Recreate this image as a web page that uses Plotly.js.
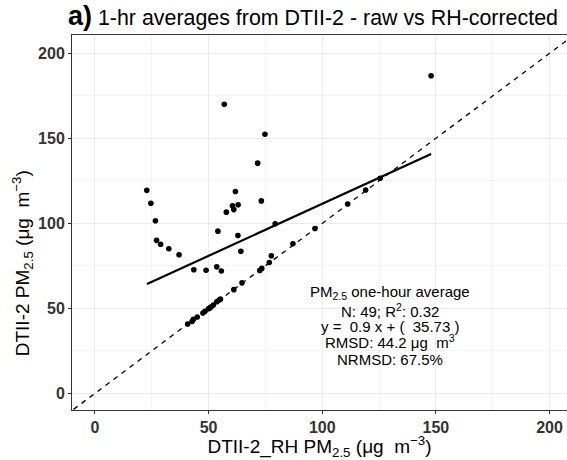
<!DOCTYPE html>
<html>
<head>
<meta charset="utf-8">
<script src="https://cdn.plot.ly/plotly-3.0.1.min.js"></script>
<style>html,body{margin:0;padding:0;background:#fff;}#chart{width:567px;height:460px;}</style>
</head>
<body>
<div id="chart"></div>
<script>
// RH-corrected (x) vs raw (y) 1-hr PM2.5, ug/m3
var rhCorrected = [22.8,24.6,26.6,27.1,28.9,32.5,37.0,43.5,48.9,53.6,55.6,54.1,57.8,60.5,61.1,63.0,61.8,56.9,74.8,71.6,73.2,62.9,64.2,79.3,77.6,147.9,
  40.8,42.7,43.3,45.0,47.5,48.4,49.9,50.5,51.0,52.1,53.6,54.5,55.2,61.1,64.7,72.5,73.4,76.7,87.1,96.8,111.2,119.1,125.5];
var raw = [119.4,111.8,101.5,90.0,87.7,85.1,81.5,72.7,72.4,74.4,72.0,95.4,106.6,110.3,108.1,110.9,118.7,170.0,152.4,135.4,113.2,92.8,83.6,99.8,80.9,186.8,
  40.8,42.3,43.5,44.9,47.3,48.3,49.8,50.2,50.8,52.0,53.9,54.7,55.4,61.0,65.0,72.3,73.5,77.0,88.0,97.0,111.4,119.6,126.5];
var fitX = [22.9, 147.9];
var fitY = [64.3, 140.8];
var oneToOne = [-20, 230];
var tickVals = [0, 50, 100, 150, 200];
var tickText = ['0', '50', '100', '150', '200'];
var statLines = ['PM<sub>2.5</sub> one-hour average', 'N: 49; R<sup>2</sup>: 0.32', 'y =  0.9 x + (  35.73 )', 'RMSD: 44.2 \u03bcg  m<sup>3</sup>', 'NRMSD: 67.5%'];
var statLineY = [59.6, 48.9, 39.6, 30.4, 19.8];

var traces = [
  {x: oneToOne, y: oneToOne, mode: 'lines', line: {color: '#000', width: 1.3, dash: '5px,5px'}, hoverinfo: 'skip', showlegend: false},
  {x: fitX, y: fitY, mode: 'lines', line: {color: '#000', width: 2.2}, showlegend: false},
  {x: rhCorrected, y: raw, mode: 'markers', marker: {color: '#000', size: 5.6}, showlegend: false}
];

var axisFont = {family: 'Liberation Sans, Arial, sans-serif', size: 16, color: '#333333', weight: 'bold'};
var annotations = statLines.map(function (t, i) {
  return {text: t, xref: 'x', yref: 'y', x: 129.8, y: statLineY[i], xanchor: 'center', yanchor: 'middle',
          showarrow: false, align: 'center', font: {size: 15, color: '#000'}};
});
annotations.push({
  text: 'DTII-2 PM<sub>2.5</sub> (\u03bcg  m<sup>\u22123</sup>)', textangle: -90,
  xref: 'paper', yref: 'paper', x: -0.1, xanchor: 'center', y: 0.39, yanchor: 'middle',
  showarrow: false, font: {size: 19, color: '#000'}
});

var layout = {
  width: 567, height: 460,
  margin: {l: 72, r: 0, t: 35, b: 50},
  paper_bgcolor: '#fff', plot_bgcolor: '#fff',
  font: {family: 'Liberation Sans, Arial, sans-serif', color: '#000'},
  title: {text: '<b><span style="font-size:27px">a)</span></b> 1-hr averages from DTII-2 - raw vs RH-corrected',
          font: {size: 21.4, color: '#000'}, xref: 'container', yref: 'container', x: 0.552, xanchor: 'center', y: 0.963, yanchor: 'middle'},
  xaxis: {range: [-10.1, 207.7], tickvals: tickVals, ticktext: tickText, tickfont: axisFont,
          showgrid: true, gridcolor: '#ebebeb', gridwidth: 1, zeroline: false,
          minor: {dtick: 25, tick0: 0, showgrid: true, gridcolor: '#f3f3f3', gridwidth: 1},
          showline: true, linecolor: '#333', linewidth: 1, mirror: true,
          ticks: 'outside', ticklen: 3, tickcolor: '#333',
          title: {text: 'DTII-2_RH PM<sub>2.5</sub> (\u03bcg  m<sup>\u22123</sup>)', font: {size: 19, color: '#000'}, standoff: 4}},
  yaxis: {range: [-9.8, 210.8], tickvals: tickVals, ticktext: tickText, tickfont: axisFont,
          showgrid: true, gridcolor: '#ebebeb', gridwidth: 1, zeroline: false,
          minor: {dtick: 25, tick0: 0, showgrid: true, gridcolor: '#f3f3f3', gridwidth: 1},
          showline: true, linecolor: '#333', linewidth: 1,
          ticks: 'outside', ticklen: 3, tickcolor: '#333'},
  annotations: annotations
};
Plotly.newPlot('chart', traces, layout, {displayModeBar: false, staticPlot: true});
</script>
</body>
</html>
